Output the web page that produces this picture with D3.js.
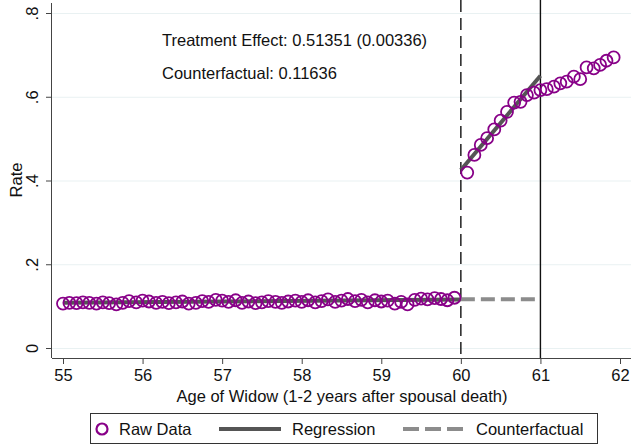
<!DOCTYPE html>
<html>
<head>
<meta charset="utf-8">
<script src="https://cdn.jsdelivr.net/npm/d3@7"></script>
<style>
  body { margin: 0; background: #fff; }
  svg { font-family: "Liberation Sans", Arial, sans-serif; display: block; }
</style>
</head>
<body>
<div id="chart"></div>
<script>
// idades (meses) antes e depois do corte aos 60
const leftAges = [55.00, 55.08, 55.17, 55.25, 55.33, 55.42, 55.50, 55.58, 55.67, 55.75, 55.83, 55.92,
    56.00, 56.08, 56.17, 56.25, 56.33, 56.42, 56.50, 56.58, 56.67, 56.75, 56.83, 56.92,
    57.00, 57.08, 57.17, 57.25, 57.33, 57.42, 57.50, 57.58, 57.67, 57.75, 57.83, 57.92,
    58.00, 58.08, 58.17, 58.25, 58.33, 58.42, 58.50, 58.58, 58.67, 58.75, 58.83, 58.92,
    59.00, 59.08, 59.17, 59.25, 59.33, 59.42, 59.50, 59.58, 59.67, 59.75, 59.83, 59.92]
const leftRates = [0.106, 0.108, 0.107, 0.109, 0.108, 0.106, 0.109, 0.107, 0.104, 0.108, 0.112, 0.109,
    0.113, 0.111, 0.108, 0.110, 0.107, 0.109, 0.111, 0.106, 0.108, 0.112, 0.110, 0.115,
    0.113, 0.110, 0.114, 0.108, 0.111, 0.107, 0.109, 0.112, 0.110, 0.108, 0.111, 0.113,
    0.110, 0.114, 0.109, 0.112, 0.116, 0.110, 0.113, 0.117, 0.112, 0.115, 0.109, 0.114,
    0.111, 0.113, 0.106, 0.110, 0.104, 0.115, 0.118, 0.116, 0.119, 0.117, 0.114, 0.120]
const rightAges = [60.08, 60.17, 60.25, 60.33, 60.42, 60.50, 60.58, 60.67, 60.75, 60.83, 60.92,
    61.00, 61.08, 61.17, 61.25, 61.33, 61.42, 61.50, 61.58, 61.67, 61.75, 61.83, 61.92]
const rightRates = [0.419, 0.461, 0.485, 0.501, 0.522, 0.543, 0.564, 0.586, 0.588, 0.604, 0.610,
    0.616, 0.618, 0.624, 0.632, 0.636, 0.648, 0.642, 0.670, 0.668, 0.676, 0.686, 0.694]

// retas ajustadas
const regLeft = [[55, 0.108], [60, 0.116]]
const regRight = [[60, 0.425], [61, 0.650]]
const counterfactual = [[60, 0.11636], [61, 0.11636]]

const xTicks = [55, 56, 57, 58, 59, 60, 61, 62]
const yTicks = [0, 0.2, 0.4, 0.6, 0.8]
const yTickLabels = ["0", ".2", ".4", ".6", ".8"]
const notes = ["Treatment Effect: 0.51351 (0.00336)", "Counterfactual: 0.11636"]

const W = 631, H = 446
const plot = { left: 52, right: 631, top: 3, bottom: 358 }
const fs = 16.5

const svg = d3.select("#chart").append("svg")
    .attr("width", W).attr("height", H)

const x = d3.scaleLinear().domain([55, 62]).range([63, 620])
const y = d3.scaleLinear().domain([0, 0.8]).range([348, 13])

// linhas de grade
svg.append("g")
    .attr("transform", "translate(" + plot.left + ",0)")
    .call(d3.axisLeft(y).tickValues(yTicks).tickSize(-(plot.right - plot.left)).tickFormat(""))
    .call(g => g.select(".domain").remove())
    .call(g => g.selectAll("line").attr("stroke", "#e9f1f2").attr("stroke-width", 1))

// linhas verticais de corte
svg.append("line")
    .attr("x1", x(60)).attr("x2", x(60)).attr("y1", 0).attr("y2", plot.bottom)
    .attr("stroke", "#111").attr("stroke-width", 1.4).attr("stroke-dasharray", "12,6")
svg.append("line")
    .attr("x1", x(61)).attr("x2", x(61)).attr("y1", 0).attr("y2", plot.bottom)
    .attr("stroke", "#111").attr("stroke-width", 1.4)

const line = d3.line().x(d => x(d[0])).y(d => y(d[1]))

// regressão
svg.append("path").datum(regLeft).attr("d", line)
    .attr("fill", "none").attr("stroke", "#555").attr("stroke-width", 4)
svg.append("path").datum(regRight).attr("d", line)
    .attr("fill", "none").attr("stroke", "#555").attr("stroke-width", 4)

// contrafactual
svg.append("path").datum(counterfactual).attr("d", line)
    .attr("fill", "none").attr("stroke", "#8c8c8c").attr("stroke-width", 4)
    .attr("stroke-dasharray", "14,6")

// pontos
const points = leftAges.map((a, i) => [a, leftRates[i]])
    .concat(rightAges.map((a, i) => [a, rightRates[i]]))
svg.append("g").selectAll("circle")
    .data(points).join("circle")
    .attr("cx", d => x(d[0])).attr("cy", d => y(d[1])).attr("r", 6)
    .attr("fill", "none").attr("stroke", "#880088").attr("stroke-width", 1.8)

// eixo X
svg.append("g")
    .attr("transform", "translate(0," + plot.bottom + ")")
    .call(d3.axisBottom(x).tickValues(xTicks).tickSize(6).tickPadding(5).tickFormat(d => d))
    .call(g => g.select(".domain").attr("d", "M" + plot.left + ",0.5H" + plot.right).attr("stroke", "#444"))
    .call(g => g.selectAll("line").attr("stroke", "#444"))
    .call(g => g.selectAll("text").attr("font-size", fs).attr("fill", "#111"))

// eixo Y
const yAxis = svg.append("g")
    .attr("transform", "translate(" + plot.left + ",0)")
    .call(d3.axisLeft(y).tickValues(yTicks).tickSize(6).tickFormat((d, i) => yTickLabels[i]))
    .call(g => g.select(".domain").attr("d", "M-0.5," + plot.top + "V" + plot.bottom).attr("stroke", "#444"))
    .call(g => g.selectAll("line").attr("stroke", "#444"))
yAxis.selectAll("text")
    .attr("font-size", fs).attr("fill", "#111")
    .attr("x", null).attr("dy", null)
    .attr("text-anchor", "middle")
    .attr("transform", "translate(-14,0) rotate(-90)")

// títulos dos eixos
svg.append("text")
    .attr("x", 342).attr("y", 402)
    .attr("text-anchor", "middle").attr("font-size", fs).attr("fill", "#111")
    .text("Age of Widow (1-2 years after spousal death)")
svg.append("text")
    .attr("transform", "translate(22,180) rotate(-90)")
    .attr("text-anchor", "middle").attr("font-size", fs).attr("fill", "#111")
    .text("Rate")

// anotações
svg.selectAll(".note").data(notes).join("text")
    .attr("class", "note")
    .attr("x", 162).attr("y", (d, i) => 46 + i * 33)
    .attr("font-size", fs).attr("fill", "#111")
    .text(d => d)

// legenda
const legend = svg.append("g")
legend.append("rect")
    .attr("x", 90.5).attr("y", 413.5).attr("width", 507).attr("height", 30)
    .attr("fill", "#fff").attr("stroke", "#333")
legend.append("circle")
    .attr("cx", 102).attr("cy", 429).attr("r", 5.5)
    .attr("fill", "none").attr("stroke", "#880088").attr("stroke-width", 2.2)
legend.append("line")
    .attr("x1", 219).attr("x2", 281).attr("y1", 429).attr("y2", 429)
    .attr("stroke", "#555").attr("stroke-width", 4)
legend.append("line")
    .attr("x1", 403).attr("x2", 463).attr("y1", 429).attr("y2", 429)
    .attr("stroke", "#8c8c8c").attr("stroke-width", 4).attr("stroke-dasharray", "16,6")
const legendItems = [["Raw Data", 119], ["Regression", 292], ["Counterfactual", 476]]
legend.selectAll(".lt").data(legendItems).join("text")
    .attr("class", "lt")
    .attr("x", d => d[1]).attr("y", 435)
    .attr("font-size", fs).attr("fill", "#111")
    .text(d => d[0])
</script>
</body>
</html>
